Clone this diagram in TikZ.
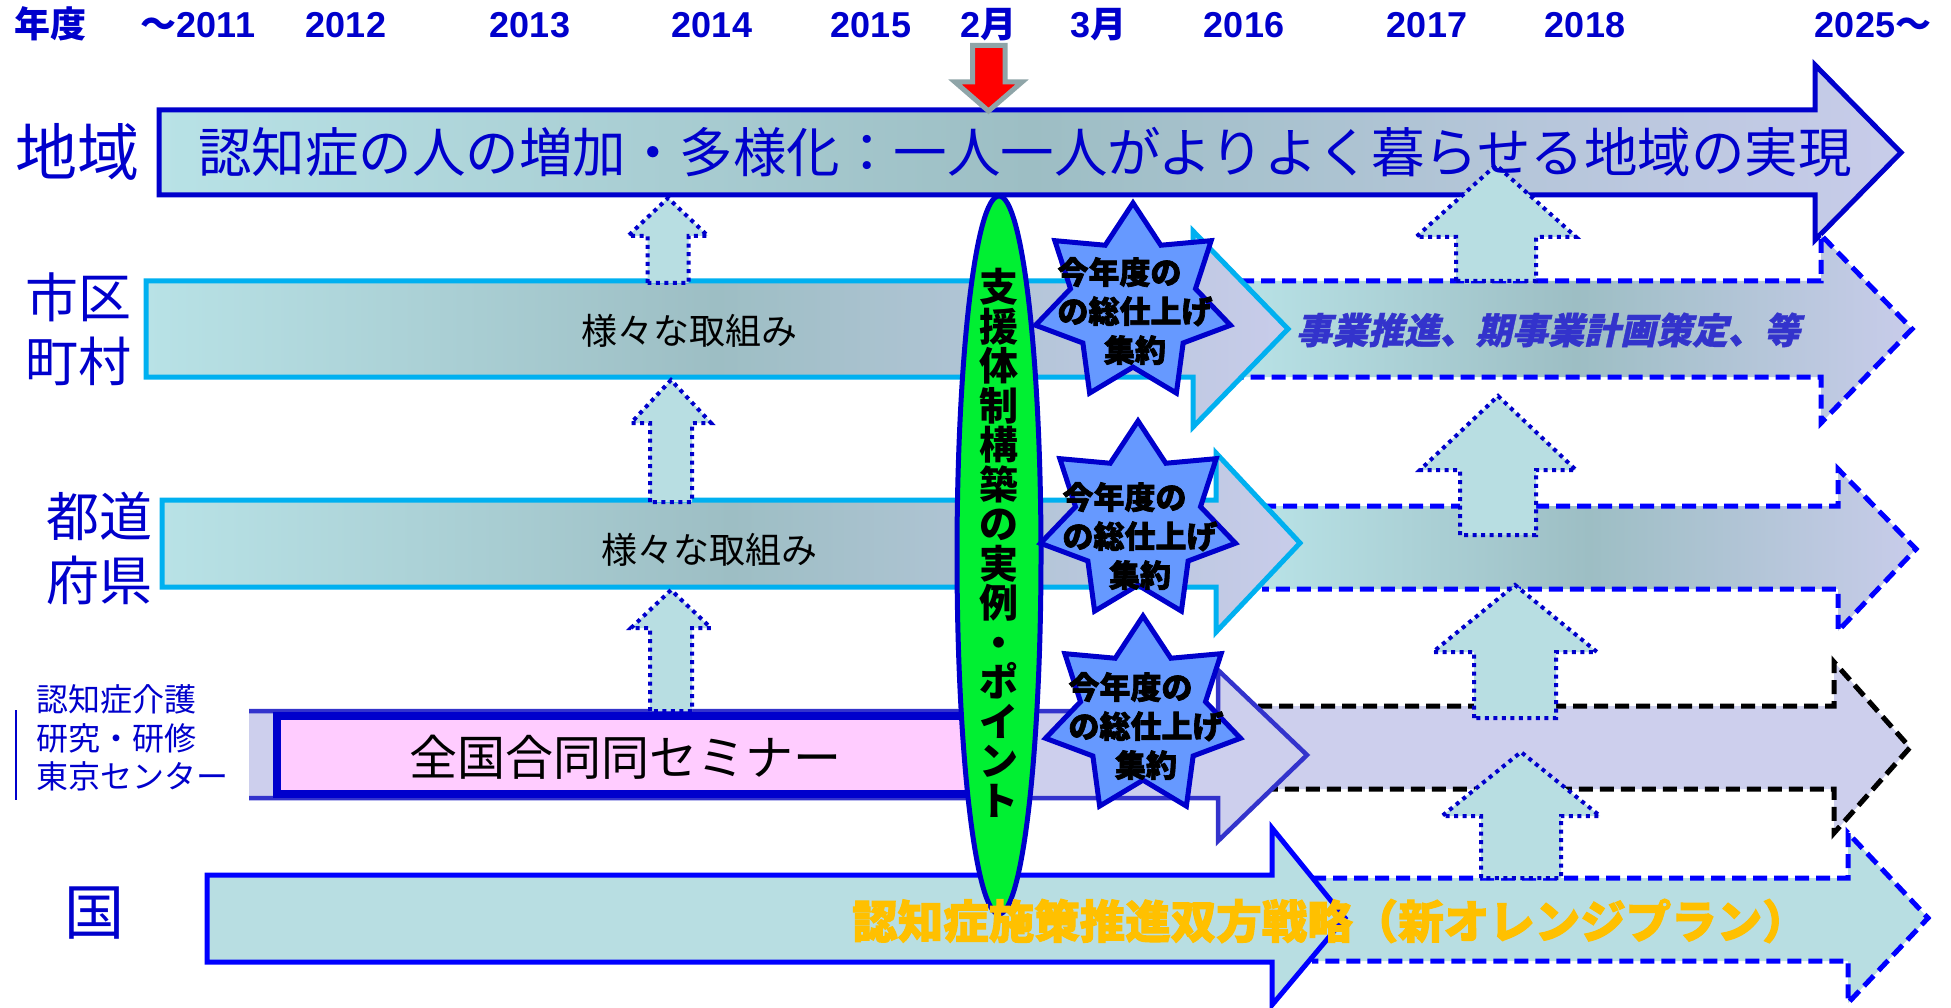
\documentclass[tikz,border=0pt]{standalone}
\usepackage{fontspec}
\setmainfont{Liberation Sans}
\newfontfamily\jp{Noto Sans CJK JP}
\newfontfamily\jpheavy[FakeBold=2.2]{Noto Sans CJK JP}
\newfontfamily\jpsl[FakeSlant=0.22,FakeBold=1]{Noto Sans CJK JP}
\usetikzlibrary{shapes.geometric}
\definecolor{dblue}{RGB}{0,0,204}
\definecolor{cyanedge}{RGB}{0,176,240}
\definecolor{lcyan}{RGB}{184,226,230}
\definecolor{mteal}{RGB}{157,190,196}
\definecolor{lav}{RGB}{200,204,234}
\definecolor{lavf}{RGB}{205,207,237}
\definecolor{pale}{RGB}{184,222,226}
\definecolor{pinkf}{RGB}{255,204,255}
\definecolor{greenf}{RGB}{0,240,50}
\definecolor{starf}{RGB}{102,153,255}
\definecolor{gold}{RGB}{255,192,0}
\definecolor{midblue}{RGB}{51,51,204}
\definecolor{grayedge}{RGB}{143,165,168}
\definecolor{pureblue}{RGB}{0,0,255}
\newcommand\UpArr[6]{%
  \path[dotarr] (#1-#6,#4) -- (#1-#6,#3) -- (#1-#5,#3) -- (#1,#2) -- (#1+#5,#3) -- (#1+#6,#3) -- (#1+#6,#4) -- cycle;}
\begin{document}
\begin{tikzpicture}[x=1pt,y=-1pt,
  dotarr/.style={fill=pale, draw=dblue, line width=4pt, dash pattern=on 4pt off 4.5pt},
  dasharr/.style={draw=pureblue, line width=5pt, dash pattern=on 14pt off 7pt},
  grad/.style={left color=lcyan, right color=lav, middle color=mteal},
  starbadge/.style={star, star points=7, star point ratio=1.56, minimum size=200pt, inner sep=0pt, fill=starf, draw=dblue, line width=5pt},
  startext/.style={font=\jpheavy\bfseries\fontsize{31}{39}\selectfont, align=center, text=black},
  rowtext/.style={font=\jp\fontsize{36}{40}\selectfont, text=black},
  lbl/.style={font=\jp\fontsize{53}{64}\selectfont, text=dblue, align=center},
  hdr/.style={font=\bfseries\fontsize{36}{40}\selectfont, text=dblue, anchor=base, inner sep=0pt}
]
\useasboundingbox (0,0) rectangle (1951,1008);
\fill[white] (0,0) rectangle (1951,1008);

% row 1
\path[draw=dblue, line width=5pt, grad] (159,110) -- (1815,110) -- (1815,65) -- (1901,152.5) -- (1815,240) -- (1815,195) -- (159,195) -- cycle;

% dashed arrows
\path[dasharr, grad] (1240,281) -- (1821,281) -- (1821,235) -- (1912,329) -- (1821,423) -- (1821,377) -- (1240,377);
\path[dasharr, grad] (1262,506) -- (1838,506) -- (1838,469) -- (1916,549) -- (1838,631) -- (1838,589) -- (1262,589);
\path[dasharr, draw=black, fill=lavf] (1258,706) -- (1834,706) -- (1834,662) -- (1910,747.5) -- (1834,833) -- (1834,789) -- (1258,789);
\path[dasharr, fill=pale] (1312,878) -- (1848,878) -- (1848,833) -- (1928,918) -- (1848,1003) -- (1848,961) -- (1312,961);

% solid arrows
\path[draw=cyanedge, line width=5pt, grad] (146,281) -- (1193,281) -- (1193,231) -- (1288,329) -- (1193,427) -- (1193,377) -- (146,377) -- cycle;
\path[draw=cyanedge, line width=5pt, grad] (162,500) -- (1216,500) -- (1216,453) -- (1300,543) -- (1216,632) -- (1216,587) -- (162,587) -- cycle;
\path[draw=midblue, line width=4.5pt, fill=lavf] (249,711) -- (1218,711) -- (1218,670) -- (1307,755) -- (1218,841) -- (1218,798) -- (249,798);
\path[draw=pureblue, line width=5pt, fill=pale] (207,875) -- (1272,875) -- (1272,828) -- (1345,918) -- (1272,1005) -- (1272,962) -- (207,962) -- cycle;

% pink box
\path[fill=pinkf, draw=dblue, line width=8pt] (277,716) rectangle (975,794);

% up arrows
\UpArr{668}{198}{236}{283}{40}{20.5}
\UpArr{671}{380}{423}{502}{40}{21}
\UpArr{671}{590}{628}{711}{40}{21}
\UpArr{1496}{165}{237}{281}{80}{40}
\UpArr{1498}{396}{470}{535}{78}{38}
\UpArr{1515}{585}{652}{718}{82}{41}
\UpArr{1521}{752}{816}{878}{79}{40}

% row texts
\node[font=\jp\fontsize{53.5}{60}\selectfont, text=dblue, inner sep=0pt] (r1t) at (1025,152) {認知症の人の増加・多様化：一人一人がよりよく暮らせる地域の実現};
\node[rowtext] (r2t) at (689,331) {様々な取組み};
\node[rowtext] (r3t) at (709,550) {様々な取組み};
\node[font=\jp\fontsize{48}{52}\selectfont, text=black] (r4t) at (625,757) {全国合同同セミナー};
\node[font=\jpsl\bfseries\fontsize{36}{40}\selectfont, text=midblue] (r2d) at (1548,330) {事業推進、期事業計画策定、等};

% ellipse
\node[ellipse, draw=dblue, line width=5pt, fill=greenf, minimum width=84pt, minimum height=718pt, inner sep=0pt] (ell) at (999,555) {};
\node[font=\jp\bfseries\fontsize{39}{39.5}\selectfont, align=center, text=black] (ellt) at (999,543) {支\\援\\体\\制\\構\\築\\の\\実\\例\\・\\ポ\\イ\\ン\\ト};

% row 5 text
\node[font=\jpheavy\bfseries\fontsize{45.5}{50}\selectfont, text=gold] (r5t) at (1330,921) {認知症施策推進双方戦略（新オレンジプラン）};

% stars
\node[starbadge] (st1) at (1133,303) {};
\node[startext] (st1t) at (1135,311) {今年度の\hspace*{1em}\\の総仕上げ\\集約};
\node[starbadge] (st2) at (1138,521) {};
\node[startext] (st2t) at (1140,536) {今年度の\hspace*{1em}\\の総仕上げ\\集約};
\node[starbadge] (st3) at (1143,716) {};
\node[startext] (st3t) at (1146,726) {今年度の\hspace*{1em}\\の総仕上げ\\集約};

% red arrow
\path[fill=red, draw=grayedge, line width=5pt] (972.5,45.5) -- (1005,45.5) -- (1005,82) -- (1022,82) -- (988.5,111) -- (955,82) -- (972.5,82) -- cycle;

% left labels
\node[lbl, font=\jp\fontsize{62}{64}\selectfont] (l1) at (77,152) {地域};
\node[lbl] (l2) at (78,329) {市区\\町村};
\node[lbl] (l3) at (99,548) {都道\\府県};
\node[font=\jp\fontsize{32}{38.5}\selectfont, text=dblue, align=left, anchor=west] (l4) at (33,738) {認知症介護\\研究・研修\\東京センター};
\coordinate (lineA) at (16,710);
\coordinate (lineB) at (16,800);
\draw[dblue, line width=1.5pt] (lineA) -- (lineB);
\node[lbl, font=\jp\fontsize{60}{64}\selectfont] (l5) at (94,913) {国};

% header
\node[hdr] (h0) at (50,38) {{\jp\bfseries 年度}};
\node[hdr] (h1) at (198,38) {{\jp\bfseries 〜}2011};
\node[hdr] (h2) at (346,38) {2012};
\node[hdr] (h3) at (530,38) {2013};
\node[hdr] (h4) at (712,38) {2014};
\node[hdr] (h5) at (871,38) {2015};
\node[hdr] (h6) at (988,38) {2{\jp\bfseries 月}};
\node[hdr] (h7) at (1098,38) {3{\jp\bfseries 月}};
\node[hdr] (h8) at (1244,38) {2016};
\node[hdr] (h9) at (1427,38) {2017};
\node[hdr] (h10) at (1585,38) {2018};
\node[hdr] (h11) at (1873,38) {2025{\jp\bfseries 〜}};
\end{tikzpicture}
\end{document}
